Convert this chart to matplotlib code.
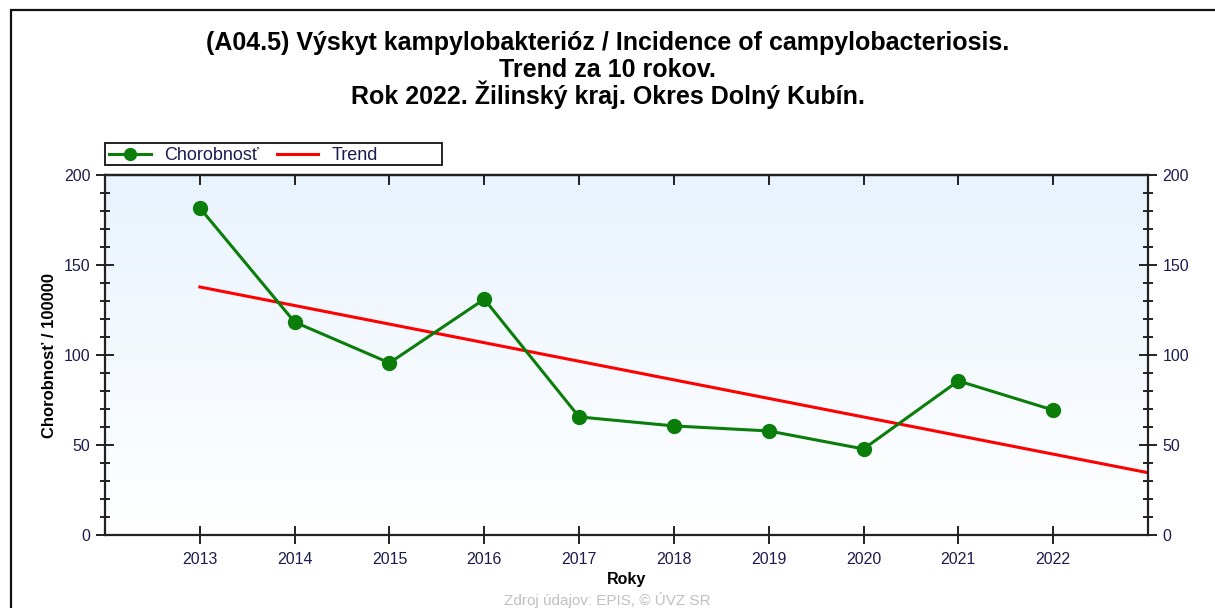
import matplotlib
matplotlib.use("Agg")
import matplotlib.pyplot as plt
import numpy as np
from matplotlib.patches import Rectangle
from matplotlib.ticker import MultipleLocator
from matplotlib.colors import LinearSegmentedColormap

plt.rcParams['font.family'] = ['Liberation Sans', 'DejaVu Sans']

years = [2013, 2014, 2015, 2016, 2017, 2018, 2019, 2020, 2021, 2022]
chorobnost = [181.7, 118.3, 95.6, 131.0, 65.6, 60.6, 57.8, 47.8, 85.6, 69.4]
trend_x = [2013, 2023]
trend_y = [137.8, 34.6]

title_lines = ["(A04.5) Výskyt kampylobakterióz / Incidence of campylobacteriosis.",
               "Trend za 10 rokov.",
               "Rok 2022. Žilinský kraj. Okres Dolný Kubín."]

W, H = 1215, 608
fig = plt.figure(figsize=(W/100, H/100), dpi=100)
fig.patch.set_facecolor('white')

# outer frame
fig.add_artist(Rectangle((11/W, -0.1), 1.2, 1.1 - 10/H, transform=fig.transFigure,
                         fill=False, edgecolor='#111111', linewidth=1.6))

ax = fig.add_axes([105/W, 1 - 535/H, (1148-105)/W, (535-175)/H])

# gradient background
grad = np.linspace(0, 1, 256).reshape(-1, 1)
cmap = LinearSegmentedColormap.from_list('bg', ['#ffffff', '#e9f3fd'])
ax.imshow(grad, aspect='auto', cmap=cmap, extent=[0, 1, 0, 1],
          transform=ax.transAxes, origin='lower', zorder=0)

ax.plot(years, chorobnost, color='#0a7d0a', linewidth=2.2, marker='o',
        markersize=10, label='Chorobnosť', zorder=3)
ax.plot(trend_x, trend_y, color='#ff0000', linewidth=2.2, label='Trend', zorder=2)

ax.set_xlim(2012, 2023)
ax.set_ylim(0, 200)
ax.set_xticks(years)
ax.set_xticklabels([str(y) for y in years])
ax.yaxis.set_major_locator(MultipleLocator(50))
ax.yaxis.set_minor_locator(MultipleLocator(10))

tick_color = '#1c1c50'
ax.tick_params(axis='both', which='major', direction='inout', length=13, width=1.3,
               labelsize=11.5, labelcolor=tick_color, color='#111111')
ax.tick_params(axis='y', which='minor', direction='inout', length=7, width=1.3,
               right=True, color='#111111')
ax.tick_params(axis='y', which='major', right=True, labelright=True, pad=4)
ax.tick_params(axis='x', which='major', pad=6)

# top ticks: inward only
sec = ax.secondary_xaxis('top')
sec.set_xticks(years)
sec.tick_params(direction='in', length=7, width=1.3, labeltop=False, color='#111111')
sec.spines['top'].set_linewidth(1.6)

for s in ax.spines.values():
    s.set_linewidth(1.6)
    s.set_color('#222222')

ax.set_xlabel('Roky', fontsize=11.5, fontweight='bold', labelpad=3)
ax.set_ylabel('Chorobnosť / 100000', fontsize=12, fontweight='bold', labelpad=5)

for yy, line in zip([50, 77, 104], title_lines):
    fig.text(0.5, 1 - yy/H, line, ha='center', va='baseline', fontsize=18,
             fontweight='bold')

# legend frame (fixed size as in reference)
fig.add_artist(Rectangle((105/W, 1 - 165/H), (442-105)/W, 22/H,
                         transform=fig.transFigure, facecolor='white',
                         edgecolor='#111111', linewidth=1.3, zorder=5))
leg = fig.legend(*ax.get_legend_handles_labels(), loc='center left',
                 bbox_to_anchor=(109/W, 1 - 155.5/H), ncol=2,
                 frameon=False, fontsize=13, markerscale=0.85,
                 borderpad=0, handlelength=2.3, columnspacing=1.0,
                 handletextpad=0.75, borderaxespad=0)
leg.set_zorder(6)
for t in leg.get_texts():
    t.set_color(tick_color)

fig.text(0.5, 1 - 600/H, 'Zdroj údajov: EPIS, © ÚVZ SR', ha='center', va='center',
         fontsize=11, color='#c0c0c0')

fig.savefig('out.png', dpi=100)
